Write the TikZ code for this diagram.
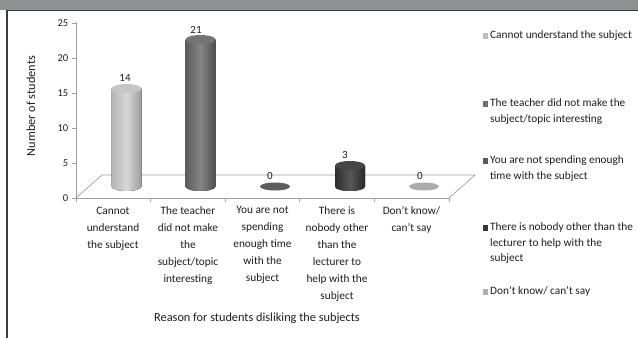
\documentclass[tikz,border=0pt]{standalone}
\usepackage{fontspec}
\setmainfont{Carlito}
\definecolor{titlegrey}{HTML}{8E9191}
\definecolor{framedark}{HTML}{3C3C3C}
\definecolor{axisgrey}{HTML}{A0A0A0}
\definecolor{txt}{HTML}{1E1E1E}
\definecolor{aL}{HTML}{B4B4B4}\definecolor{aM}{HTML}{D8D8D8}\definecolor{aR}{HTML}{9C9C9C}\definecolor{aT}{HTML}{C6C6C6}
\definecolor{bL}{HTML}{5C5C5C}\definecolor{bM}{HTML}{858585}\definecolor{bR}{HTML}{4E4E4E}\definecolor{bT}{HTML}{747474}
\definecolor{dL}{HTML}{2C2C2C}\definecolor{dM}{HTML}{575757}\definecolor{dR}{HTML}{282828}\definecolor{dT}{HTML}{474747}
\definecolor{cF}{HTML}{5E5E5E}
\definecolor{eF}{HTML}{ABABAB}
\definecolor{lg1}{HTML}{BDBDBD}\definecolor{lg2}{HTML}{6E6E6E}\definecolor{lg3}{HTML}{5A5A5A}
\definecolor{lg4}{HTML}{383838}\definecolor{lg5}{HTML}{B0B0B0}
\newcommand\cylbar[6]{%
  \pgfmathsetmacro\cyltop{186.5-7*#2}%
  \fill[left color=#3,right color=#5,middle color=#4]
    (#1-15,\cyltop) -- (#1-15,186.5)
    arc[start angle=180,end angle=360,x radius=15pt,y radius=4.5pt]
    -- (#1+15,\cyltop) -- cycle;
  \fill[#6] (#1,\cyltop) ellipse[x radius=15pt,y radius=4.5pt];
}
\begin{document}
\begin{tikzpicture}[x=1pt,y=-1pt,
  axisline/.style={draw=axisgrey,line width=0.7pt},
  ticklab/.style={font=\fontsize{10.5}{11}\selectfont,text=txt,anchor=east,inner sep=0pt},
  vallab/.style={font=\fontsize{11}{12}\selectfont,text=txt,anchor=base,inner sep=0pt},
  catlab/.style={font=\fontsize{11.3}{17}\selectfont,text=txt,anchor=north,align=center,inner sep=0pt},
  leglab/.style={font=\fontsize{11.3}{15.5}\selectfont,text=txt,anchor=north west,align=left,inner sep=0pt},
  legsq/.style={minimum size=5.5pt,inner sep=0pt,outer sep=0pt},
  title/.style={font=\fontsize{12.3}{14}\selectfont,text=txt,inner sep=0pt}]
\useasboundingbox (0,0) rectangle (638,338);
\fill[white] (0,0) rectangle (638,338);
\fill[titlegrey] (0,0) rectangle (638,9.5);
\draw[framedark,line width=1.4pt] (6.3,10.3) -- (638,10.3);
\draw[framedark,line width=1.2pt] (7,10.3) -- (7,338);
% axes and floor
\draw[axisline] (76,22) -- (76,198);
\foreach \v in {0,5,...,25} {
  \draw[axisline] (72,198-7*\v) -- (76,198-7*\v);
  \node[ticklab] (t\v) at (68.5,198-7*\v) {\v};
}
\draw[axisline] (76,198) -- (102,175) -- (475,175) -- (449,198);
\draw[axisline] (76,198) -- (449,198);
\foreach \x in {76,150.6,225.2,299.8,374.4,449}
  \draw[axisline] (\x,198) -- (\x,202);
% bars
\cylbar{126.5}{14}{aL}{aM}{aR}{aT}
\cylbar{200.5}{21}{bL}{bM}{bR}{bT}
\fill[cF] (275,186.5) ellipse[x radius=15pt,y radius=4pt];
\cylbar{350}{3}{dL}{dM}{dR}{dT}
\fill[eF] (424,186.5) ellipse[x radius=15pt,y radius=4pt];
% value labels
\node[vallab] (v1) at (125,81) {14};
\node[vallab] (v2) at (196,33) {21};
\node[vallab] (v3) at (270,179) {0};
\node[vallab] (v4) at (345,158) {3};
\node[vallab] (v5) at (420,179) {0};
% category labels
\node[catlab] (c1) at (113,206.5) {Cannot\\understand\\the subject};
\node[catlab] (c2) at (188,206.5) {The teacher\\did not make\\the\\subject/topic\\interesting};
\node[catlab] (c3) at (262.5,206.5) {You are not\\spending\\enough time\\with the\\subject};
\node[catlab] (c4) at (337,206.5) {There is\\nobody other\\than the\\lecturer to\\help with the\\subject};
\node[catlab] (c5) at (411.5,206.5) {Don't know/\\can't say};
% axis titles
\node[title,rotate=90] (ytitle) at (31,106) {Number of students};
\node[title] (xtitle) at (257,318) {Reason for students disliking the subjects};
% legend
\node[legsq,fill=lg1] (s1) at (485.5,36) {};
\node[leglab] (g1) at (490,30.5) {Cannot understand the subject};
\node[legsq,fill=lg2] (s2) at (485.5,104) {};
\node[leglab] (g2) at (490,98.5) {The teacher did not make the\\subject/topic interesting};
\node[legsq,fill=lg3] (s3) at (485.5,161) {};
\node[leglab] (g3) at (490,155.5) {You are not spending enough\\time with the subject};
\node[legsq,fill=lg4] (s4) at (485.5,228) {};
\node[leglab] (g4) at (490,222.5) {There is nobody other than the\\lecturer to help with the\\subject};
\node[legsq,fill=lg5] (s5) at (485.5,292) {};
\node[leglab] (g5) at (490,286.5) {Don't know/ can't say};
\end{tikzpicture}
\end{document}
